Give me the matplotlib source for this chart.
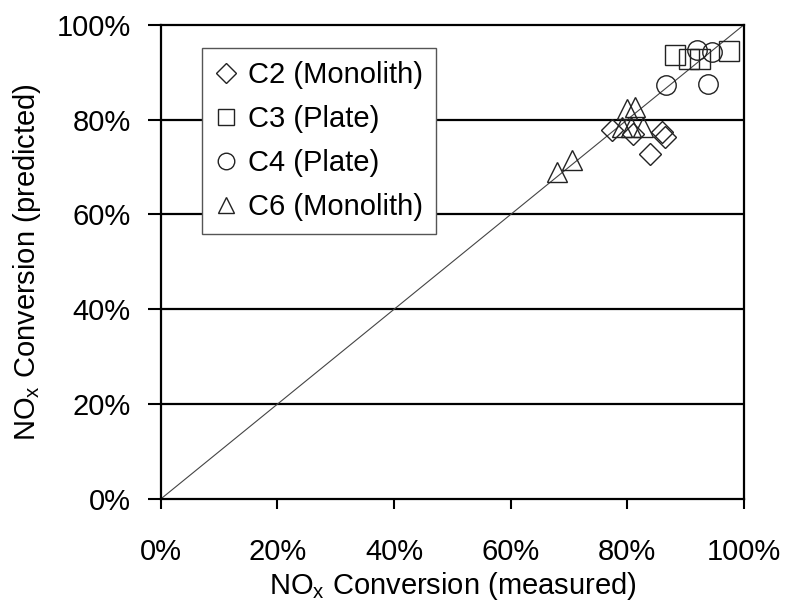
import matplotlib
matplotlib.use("Agg")
import matplotlib.pyplot as plt
from matplotlib.ticker import PercentFormatter

plt.rcParams['font.family'] = ['Liberation Sans', 'DejaVu Sans']
plt.rcParams['mathtext.fontset'] = 'custom'
plt.rcParams['mathtext.rm'] = 'Liberation Sans'

# measured vs predicted NOx conversion (%)
c2_meas = [77.3, 83.9, 85.9, 86.5, 81.0]
c2_pred = [77.8, 72.7, 77.4, 76.4, 77.0]
c3_meas = [88.2, 90.5, 92.5, 97.5]
c3_pred = [93.6, 92.8, 92.8, 94.4]
c4_meas = [86.6, 92.0, 94.5, 93.9]
c4_pred = [87.3, 94.6, 94.3, 87.6]
c6_meas = [68.0, 70.5, 79.0, 79.9, 81.3, 80.7, 82.7]
c6_pred = [69.0, 71.4, 78.5, 82.3, 82.6, 78.5, 78.5]

labels = ["C2 (Monolith)", "C3 (Plate)", "C4 (Plate)", "C6 (Monolith)"]
ticks = [0, 20, 40, 60, 80, 100]

fig = plt.figure(figsize=(7.91, 6.04), dpi=100)
ax = fig.add_axes([0.2032, 0.1738, 0.7374, 0.7853])

# gridlines
for t in ticks[1:-1]:
    ax.axhline(t, color='black', lw=1.6, zorder=1)

# 1:1 line
ax.plot([0, 100], [0, 100], color='#444444', lw=0.8, zorder=2)

style = dict(ls='none', mfc='none', mec='#222222', mew=1.0, zorder=3)
ax.plot(c2_meas, c2_pred, marker='D', ms=11.5, label=labels[0], **style)
ax.plot(c3_meas, c3_pred, marker='s', ms=14, label=labels[1], **style)
ax.plot(c4_meas, c4_pred, marker='o', ms=14, label=labels[2], **style)
ax.plot(c6_meas, c6_pred, marker='^', ms=14, label=labels[3], **style)

ax.set_xlim(0, 100)
ax.set_ylim(0, 100)
ax.set_xticks(ticks)
ax.set_yticks(ticks)
ax.xaxis.set_major_formatter(PercentFormatter(decimals=0))
ax.yaxis.set_major_formatter(PercentFormatter(decimals=0))
ax.tick_params(axis='both', labelsize=21, width=1.5, direction='out')
ax.tick_params(axis='x', length=7, pad=21)
ax.tick_params(axis='y', length=9.5, pad=12)
for s in ax.spines.values():
    s.set_linewidth(1.6)

ax.set_xlabel(r'NO$_\mathregular{x}$ Conversion (measured)', fontsize=21, labelpad=3)
ax.set_ylabel(r'NO$_\mathregular{x}$ Conversion (predicted)', fontsize=21, labelpad=10)

leg = ax.legend(loc='upper left', bbox_to_anchor=(0.07, 0.951), borderaxespad=0,
                fontsize=21, handlelength=0.8, handletextpad=0.35, markerscale=0.85,
                labelspacing=0.55, borderpad=0.45, fancybox=False, framealpha=1)
leg.get_frame().set_edgecolor('#555555')
leg.get_frame().set_linewidth(1.0)

fig.savefig("out.png", dpi=100)
